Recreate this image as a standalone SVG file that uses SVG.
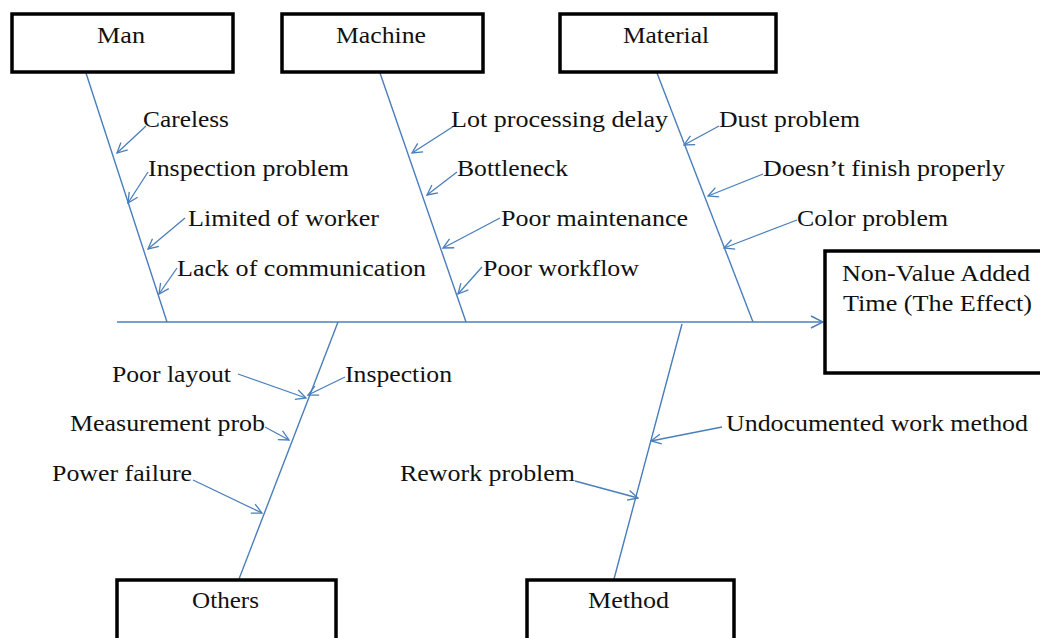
<svg xmlns="http://www.w3.org/2000/svg" width="1040" height="638" viewBox="0 0 1040 638">
<style>
.box{fill:#fff;stroke:#000;stroke-width:3.5}
.bone{stroke:#4a7ebb;stroke-width:1.4;fill:none}
.arr{stroke:#4a7ebb;stroke-width:1.3;fill:none;marker-end:url(#oa)}
text{font-family:"Liberation Serif","Times New Roman",serif;font-size:24px;fill:#111}
</style>
<defs>
<marker id="oa" viewBox="0 0 12 12" refX="11" refY="6" markerWidth="12" markerHeight="12" markerUnits="userSpaceOnUse" orient="auto">
<path d="M1,1 L11,6 L1,11" fill="none" stroke="#4a7ebb" stroke-width="1.3"/>
</marker>
<marker id="ob" viewBox="0 0 14 14" refX="13" refY="7" markerWidth="14" markerHeight="14" markerUnits="userSpaceOnUse" orient="auto">
<path d="M1,1 L13,7 L1,13" fill="none" stroke="#4a7ebb" stroke-width="1.4"/>
</marker>
</defs>
<rect width="1040" height="638" fill="#fff"/>
<g id="connectors">
<line class="bone" x1="117" y1="322" x2="823" y2="322" marker-end="url(#ob)"/>
<line class="bone" x1="86" y1="73" x2="167" y2="322"/>
<line class="bone" x1="380" y1="73" x2="466" y2="322"/>
<line class="bone" x1="657" y1="73" x2="753" y2="322"/>
<line class="bone" x1="338" y1="322" x2="239" y2="579"/>
<line class="bone" x1="682" y1="324" x2="614" y2="579"/>
<line class="arr" x1="146" y1="126" x2="117" y2="153"/>
<line class="arr" x1="148" y1="172" x2="128" y2="203"/>
<line class="arr" x1="185" y1="218" x2="148" y2="249"/>
<line class="arr" x1="177" y1="268" x2="159" y2="294"/>
<line class="arr" x1="454" y1="126" x2="412" y2="153"/>
<line class="arr" x1="457" y1="172" x2="427" y2="195"/>
<line class="arr" x1="500" y1="218" x2="443" y2="248"/>
<line class="arr" x1="482" y1="267" x2="458" y2="294"/>
<line class="arr" x1="719" y1="126" x2="684" y2="145"/>
<line class="arr" x1="763" y1="174" x2="708" y2="196"/>
<line class="arr" x1="797" y1="220" x2="724" y2="248"/>
<line class="arr" x1="238" y1="374" x2="306" y2="398"/>
<line class="arr" x1="345" y1="377" x2="308" y2="395"/>
<line class="arr" x1="265" y1="427" x2="289" y2="440"/>
<line class="arr" x1="193" y1="480" x2="262" y2="513"/>
<line class="arr" x1="722" y1="427" x2="651" y2="441"/>
<line class="arr" x1="575" y1="481" x2="638" y2="498"/>
</g>
<g id="man"><rect class="box" x="12" y="14" width="221" height="58"/><text x="97" y="43" textLength="48" lengthAdjust="spacingAndGlyphs">Man</text></g>
<g id="machine"><rect class="box" x="282" y="14" width="201" height="58"/><text x="336" y="43" textLength="90" lengthAdjust="spacingAndGlyphs">Machine</text></g>
<g id="material"><rect class="box" x="560" y="14" width="216" height="58"/><text x="623" y="43" textLength="86" lengthAdjust="spacingAndGlyphs">Material</text></g>
<g id="effect"><rect class="box" x="825" y="251" width="230" height="122"/><text x="842" y="281" textLength="188" lengthAdjust="spacingAndGlyphs">Non-Value Added</text><text x="843" y="311" textLength="189" lengthAdjust="spacingAndGlyphs">Time (The Effect)</text></g>
<g id="others"><rect class="box" x="117" y="580" width="219" height="70"/><text x="192" y="608" textLength="67" lengthAdjust="spacingAndGlyphs">Others</text></g>
<g id="method"><rect class="box" x="527" y="580" width="207" height="70"/><text x="588" y="608" textLength="81" lengthAdjust="spacingAndGlyphs">Method</text></g>
<g id="causes">
<text x="143" y="127" textLength="86" lengthAdjust="spacingAndGlyphs">Careless</text>
<text x="148" y="176" textLength="201" lengthAdjust="spacingAndGlyphs">Inspection problem</text>
<text x="188" y="226" textLength="191" lengthAdjust="spacingAndGlyphs">Limited of worker</text>
<text x="177" y="276" textLength="249" lengthAdjust="spacingAndGlyphs">Lack of communication</text>
<text x="451" y="127" textLength="217" lengthAdjust="spacingAndGlyphs">Lot processing delay</text>
<text x="457" y="176" textLength="111" lengthAdjust="spacingAndGlyphs">Bottleneck</text>
<text x="501" y="226" textLength="187" lengthAdjust="spacingAndGlyphs">Poor maintenance</text>
<text x="483" y="276" textLength="156" lengthAdjust="spacingAndGlyphs">Poor workflow</text>
<text x="719" y="127" textLength="141" lengthAdjust="spacingAndGlyphs">Dust problem</text>
<text x="763" y="176" textLength="242" lengthAdjust="spacingAndGlyphs">Doesn’t finish properly</text>
<text x="797" y="226" textLength="151" lengthAdjust="spacingAndGlyphs">Color problem</text>
<text x="112" y="382" textLength="119" lengthAdjust="spacingAndGlyphs">Poor layout</text>
<text x="345" y="382" textLength="107" lengthAdjust="spacingAndGlyphs">Inspection</text>
<text x="70" y="431" textLength="195" lengthAdjust="spacingAndGlyphs">Measurement prob</text>
<text x="52" y="481" textLength="140" lengthAdjust="spacingAndGlyphs">Power failure</text>
<text x="400" y="481" textLength="175" lengthAdjust="spacingAndGlyphs">Rework problem</text>
<text x="726" y="431" textLength="302" lengthAdjust="spacingAndGlyphs">Undocumented work method</text>
</g>
</svg>
